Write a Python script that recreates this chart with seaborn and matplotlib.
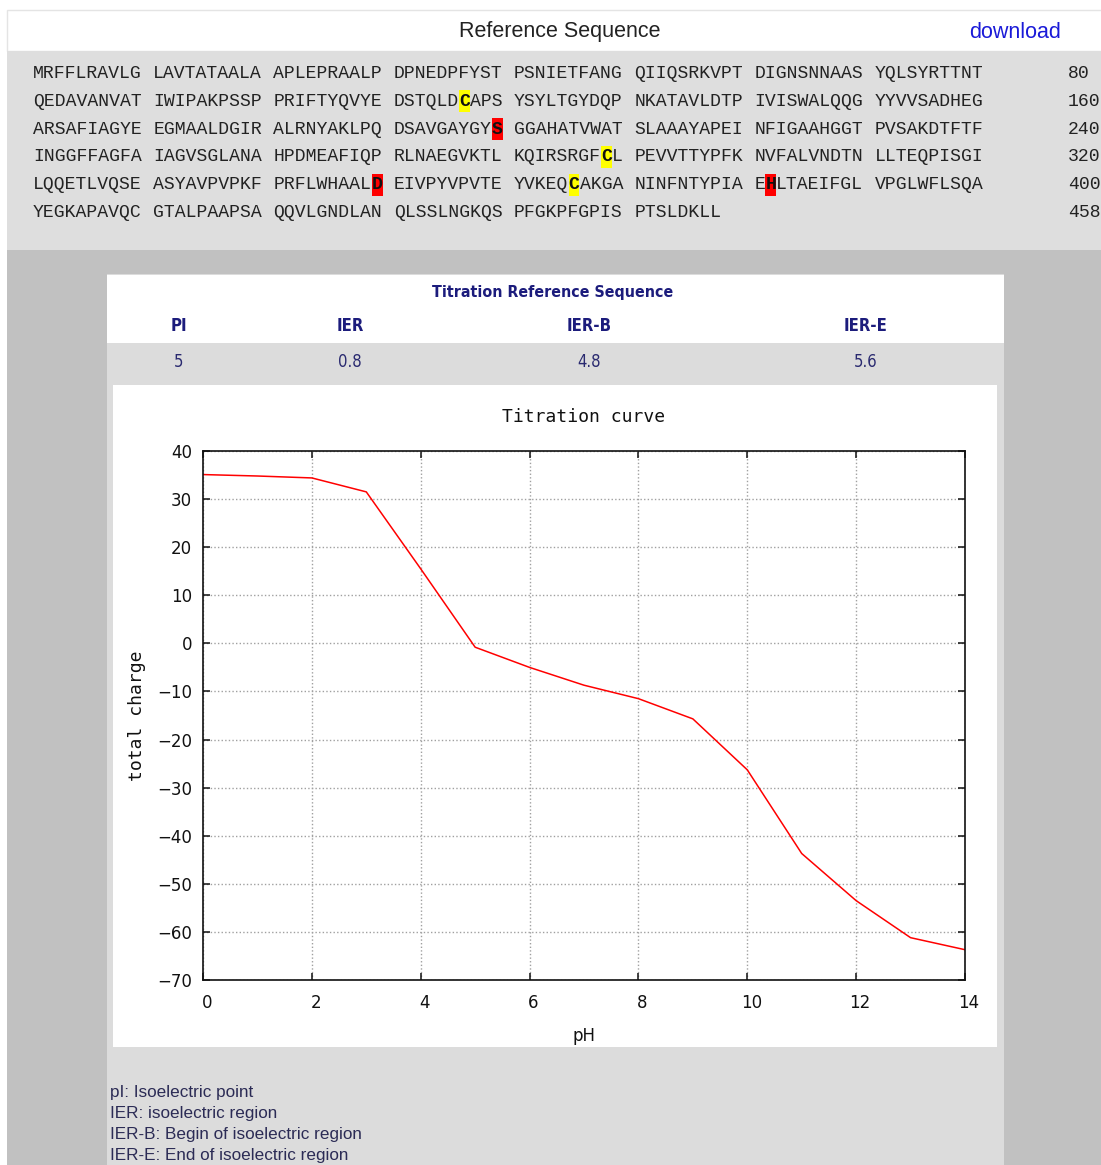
import numpy as np
import pandas as pd
import matplotlib
matplotlib.use("Agg")
import matplotlib.pyplot as plt
import matplotlib.transforms as mtransforms
from matplotlib.patches import Rectangle
import seaborn as sns

# ---------------------------------------------------------------- data
sequence = (
    "MRFFLRAVLGLAVTATAALAAPLEPRAALPDPNEDPFYSTPSNIETFANGQIIQSRKVPTDIGNSNNAASYQLSYRTTNT"
    "QEDAVANVATIWIPAKPSSPPRIFTYQVYEDSTQLDCAPSYSYLTGYDQPNKATAVLDTPIVISWALQQGYYVVSADHEG"
    "ARSAFIAGYEEGMAALDGIRALRNYAKLPQDSAVGAYGYSGGAHATVWATSLAAAYAPEINFIGAAHGGTPVSAKDTFTF"
    "INGGFFAGFAIAGVSGLANAHPDMEAFIQPRLNAEGVKTLKQIRSRGFCLPEVVTTYPFKNVFALVNDTNLLTEQPISGI"
    "LQQETLVQSEASYAVPVPKFPRFLWHAALDEIVPYVPVTEYVKEQCAKGANINFNTYPIAEHLTAEIFGLVPGLWFLSQA"
    "YEGKAPAVQCGTALPAAPSAQQVLGNDLANQLSSLNGKQSPFGKPFGPISPTSLDKLL"
)
yellow_residues = [117, 289, 366]   # cysteines
red_residues = [200, 350, 382]      # S / D / H

table_title = "Titration Reference Sequence"
table_headers = ["PI", "IER", "IER-B", "IER-E"]
table_values = ["5", "0.8", "4.8", "5.6"]

ph = [0, 1, 2, 3, 4, 5, 6, 7, 8, 9, 10, 11, 12, 13, 14]
charge = [35.1, 34.8, 34.4, 31.5, 15.5, -0.8, -5.0, -8.7, -11.5,
          -15.7, -26.3, -43.7, -53.5, -61.2, -63.7]

notes = [
    "pI: Isoelectric point",
    "IER: isoelectric region",
    "IER-B: Begin of isoelectric region",
    "IER-E: End of isoelectric region",
]

# ---------------------------------------------------------------- figure
sns.set_theme(style="ticks")
plt.rcParams["font.family"] = ["DejaVu Sans"]

W, H = 1101, 1165
fig = plt.figure(figsize=(W / 100, H / 100), dpi=100)
fig.patch.set_facecolor("white")

# page layer in pixel coordinates
bg = fig.add_axes([0, 0, 1, 1], zorder=0)
bg.set_xlim(0, W)
bg.set_ylim(H, 0)
bg.axis("off")


def box(x0, y0, x1, y1, color, **kw):
    bg.add_patch(Rectangle((x0, y0), x1 - x0, y1 - y0, facecolor=color,
                           edgecolor=kw.pop("edgecolor", "none"), lw=kw.pop("lw", 0), **kw))


box(7, 10, W + 2, 51, "white", edgecolor="#e4e4e4", lw=1)
box(7, 51, W, 250, "#dedede")
box(7, 250, W, H, "#c1c1c1")
box(107, 274, 1004, H, "#dcdcdc")
box(107, 275, 1004, 343, "white")
box(113, 385, 997, 1047, "white")

sans = ["Liberation Sans", "DejaVu Sans"]

bg.text(560, 32, "Reference Sequence", ha="center", va="center",
        family=sans, fontsize=15.5, color="#222222")
bg.text(1015, 32, "download", ha="center", va="center",
        family=sans, fontsize=15.5, color="#1a1ad8")

# sequence listing: 80 residues per row, blocks of 10;
# marked residues get a coloured cell and a bold letter
x0, adv = 33.0, 10.93
row_y0, row_dy = 73.5, 27.8
mono = dict(family="Liberation Mono", fontsize=13.1)
marked = {n: "#ffff00" for n in yellow_residues}
marked.update({n: "#ff0000" for n in red_residues})

rows = [sequence[i:i + 80] for i in range(0, len(sequence), 80)]
for r, row in enumerate(rows):
    y = row_y0 + r * row_dy
    for b in range(0, len(row), 10):
        block = row[b:b + 10]
        bx = x0 + (b // 10) * 11 * adv
        start = 0
        for k in range(len(block) + 1):
            resnum = r * 80 + b + k + 1
            if k == len(block) or resnum in marked:
                if k > start:
                    bg.text(bx + start * adv, y, block[start:k], ha="left",
                            va="center", color="#222222", zorder=3, **mono)
                if k < len(block):
                    cx = bx + k * adv
                    box(cx, y - 11, cx + adv, y + 11, marked[resnum], zorder=2)
                    bg.text(cx, y, block[k], ha="left", va="center",
                            color="#111111", fontweight="bold", zorder=3, **mono)
                start = k + 1
    end = r * 80 + len(row)
    bg.text(1068, y, str(end), ha="left", va="center", color="#222222", **mono)

# summary table
navy = "#1c1c7c"
cond = dict(family=["DejaVu Sans"], stretch="condensed")
bg.text(553, 292, table_title, ha="center", va="center", fontsize=11.4,
        fontweight="bold", color=navy, **cond)
col_x = [179, 350, 589, 866]
for cx, hname, val in zip(col_x, table_headers, table_values):
    bg.text(cx, 326, hname, ha="center", va="center", fontsize=12,
            fontweight="bold", color=navy, **cond)
    bg.text(cx, 362, val, ha="center", va="center", fontsize=12,
            color="#2a2a70", **cond)

for i, line in enumerate(notes):
    bg.text(110, 1093 + i * 20.7, line, ha="left", va="center", family=sans,
            fontsize=12.3, color="#2b2b55")

# ---------------------------------------------------------------- titration plot
left, right, top, bottom = 203, 965, 451, 980
ax = fig.add_axes([left / W, 1 - bottom / H, (right - left) / W, (bottom - top) / H], zorder=2)
ax.set_facecolor("white")

df = pd.DataFrame({"pH": ph, "total charge": charge})
sns.lineplot(data=df, x="pH", y="total charge", color="#ff0000", linewidth=1.1, ax=ax)

ax.set_xlim(0, 14)
ax.set_ylim(-70, 40)
ax.set_xticks(np.arange(0, 15, 2))
ax.set_yticks(np.arange(-70, 41, 10))
ax.grid(True, color="#a0a0a0", linestyle=(0, (1, 1.6)), linewidth=1.0)
ax.tick_params(direction="in", length=5, width=1.1, top=True, right=True,
               labelsize=12, colors="#111111")
ax.tick_params(axis="x", pad=10)
ax.tick_params(axis="y", pad=8)
for s in ax.spines.values():
    s.set_visible(True)
    s.set_linewidth(1.2)
    s.set_color("#111111")

shift = mtransforms.ScaledTranslation(4 / 100, 0, fig.dpi_scale_trans)
for lab in ax.get_xticklabels():
    lab.set_transform(lab.get_transform() + shift)

ax.set_xlabel("pH", fontsize=12, color="#111111", va="center")
ax.xaxis.set_label_coords(0.5, -(1036 - bottom) / (bottom - top))
ax.set_ylabel("total charge", family="DejaVu Sans Mono", fontsize=13,
              color="#111111", va="center")
ax.yaxis.set_label_coords(-(left - 137) / (right - left), 0.5)
ax.set_title("Titration curve", family="DejaVu Sans Mono", fontsize=13,
             color="#111111", y=1 + (top - 417) / (bottom - top), va="center", pad=0)

fig.savefig("out.png", dpi=100, facecolor=fig.get_facecolor())
